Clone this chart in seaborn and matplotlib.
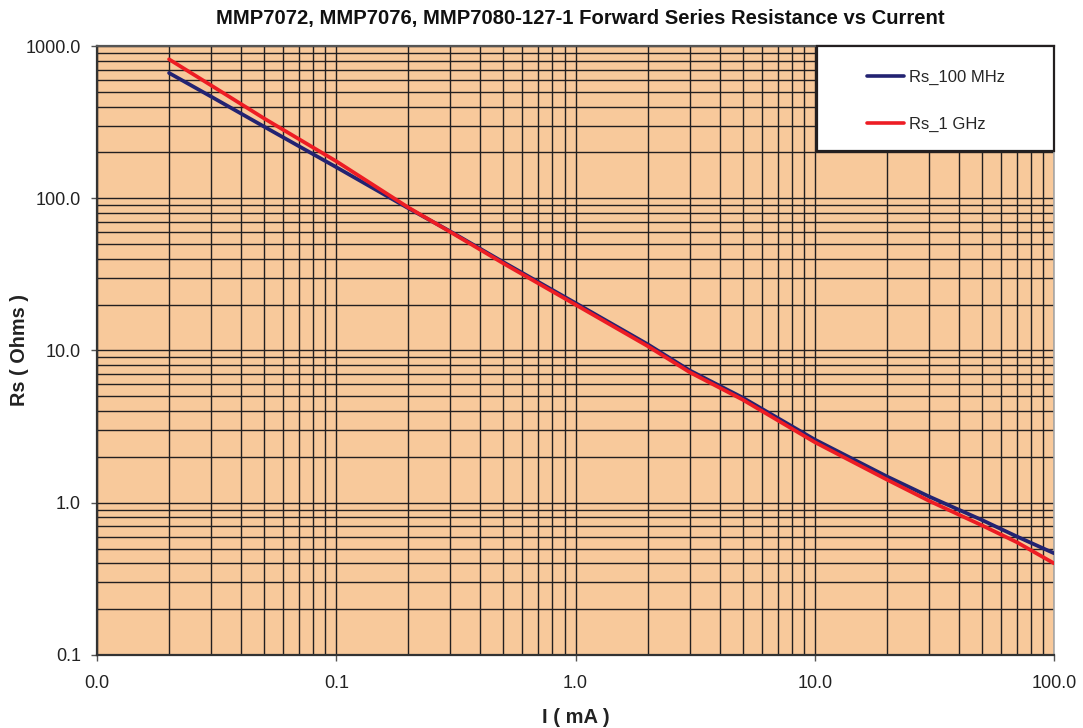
import numpy as np
import pandas as pd
from matplotlib.patches import Rectangle
from matplotlib.ticker import LogLocator, FormatStrFormatter, NullFormatter

import seaborn as sns
import matplotlib.pyplot as plt


# values
current_ma = [0.02, 0.03, 0.05, 0.1, 0.2, 0.3, 0.5, 1, 2, 3, 5, 10, 20, 30, 50, 70, 100]
rs_100mhz = [665, 465, 295, 160, 86, 60.5, 38, 20.5, 11.0, 7.4, 4.9, 2.6, 1.49, 1.10, 0.77, 0.60, 0.466]
rs_1ghz = [818, 551, 334, 175, 87, 60, 37.3, 20.0, 10.7, 7.2, 4.75, 2.5, 1.42, 1.03, 0.71, 0.55, 0.40]

series_names = ["Rs_100 MHz", "Rs_1 GHz"]
series_colors = ["#232372", "#ED1C24"]

title = "MMP7072, MMP7076, MMP7080-127-1 Forward Series Resistance vs Current"
x_label = "I ( mA )"
y_label = "Rs ( Ohms )"

df = pd.concat([
    pd.DataFrame({"I": current_ma, "Rs": rs_100mhz, "series": series_names[0]}),
    pd.DataFrame({"I": current_ma, "Rs": rs_1ghz, "series": series_names[1]}),
])

sns.set_style("ticks")
plt.rcParams["font.family"] = ["Liberation Sans", "DejaVu Sans"]

fig = plt.figure(figsize=(10.83, 7.28), dpi=100)
ax = fig.add_axes([0.0896, 0.1003, 0.8836, 0.8365])
ax.set_xscale("log")
ax.set_yscale("log")
ax.set_facecolor("#F8C99B")

sns.lineplot(
    data=df, x="I", y="Rs", hue="series",
    hue_order=series_names, palette=dict(zip(series_names, series_colors)),
    estimator=None, sort=False, linewidth=2.7, ax=ax, zorder=3
)

ax.set_xlim(0.01, 100)
ax.set_ylim(0.1, 1000)

# grid on every 1..9 of each decade
for axis in (ax.xaxis, ax.yaxis):
    axis.set_major_locator(LogLocator(base=10, numticks=10))
    axis.set_minor_locator(LogLocator(base=10, subs=np.arange(2, 10), numticks=20))
    axis.set_major_formatter(FormatStrFormatter("%.1f"))
    axis.set_minor_formatter(NullFormatter())
ax.grid(which="both", color="#231F20", linewidth=1.0)
ax.set_axisbelow(True)

ax.tick_params(which="major", length=4.5, width=1, color="#555555", labelsize=13, labelcolor="#222222")
ax.tick_params(which="minor", length=0)
ax.tick_params(axis="x", pad=10)
ax.tick_params(axis="y", pad=7)

for side in ["left", "bottom"]:
    ax.spines[side].set_color("#333333")
    ax.spines[side].set_linewidth(1.6)
ax.spines["top"].set_color("#555555")
ax.spines["top"].set_linewidth(1.6)
ax.spines["right"].set_color("#A8A8A8")
ax.spines["right"].set_linewidth(1.2)

ax.set_xlabel(x_label, fontsize=14.5, fontweight="bold", color="#222222")
ax.set_ylabel(y_label, fontsize=14.3, fontweight="bold", color="#222222")
ax.xaxis.set_label_coords(0.5, -0.087)
ax.yaxis.set_label_coords(-0.071, 0.5)
ax.set_title(title, fontsize=14.6, fontweight="bold", color="#111111", x=0.505, pad=16)

# white legend box in the upper right corner
ax.add_patch(Rectangle(
    (0.752, 0.8276), 0.248, 0.1724, transform=ax.transAxes,
    facecolor="white", edgecolor="#231F20", linewidth=1.6, zorder=5, clip_on=False
))
handles, labels = ax.get_legend_handles_labels()
leg = ax.legend(
    handles, labels, loc="center", bbox_to_anchor=(0.8767, 0.9097),
    frameon=False, fontsize=12, handlelength=2.2, handletextpad=0.3,
    labelspacing=1.95, borderpad=0
)
leg.set_zorder(6)
for line in leg.get_lines():
    line.set_linewidth(2.6)

fig.savefig("out.png", dpi=100)
